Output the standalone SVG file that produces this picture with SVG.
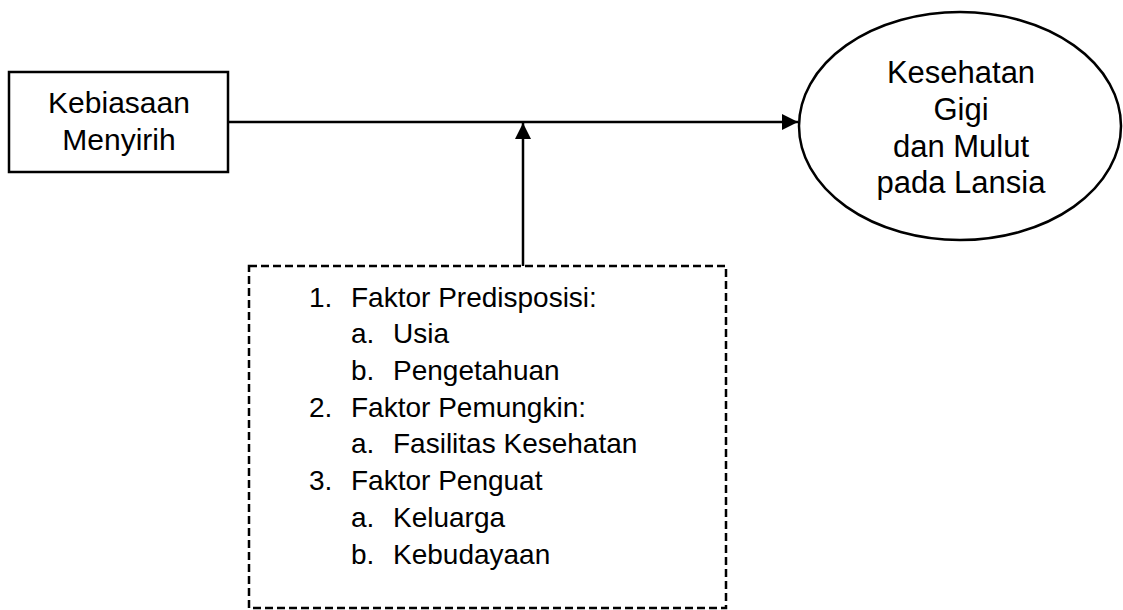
<svg xmlns="http://www.w3.org/2000/svg" width="1123" height="610" viewBox="0 0 1123 610">
<defs>
<style>
.t{font-family:"Liberation Sans",Arial,sans-serif;fill:#000}
.shape{fill:#fff;stroke:#000;stroke-width:2.5}
.conn{stroke:#000;stroke-width:2.5;fill:none}
</style>
<marker id="ah" markerWidth="16" markerHeight="16" viewBox="0 0 16 16" refX="16" refY="8" orient="auto" markerUnits="userSpaceOnUse">
<path d="M0,0 L16,8 L0,16 Z" fill="#000"/>
</marker>
</defs>
<rect width="1123" height="610" fill="#fff"/>
<g id="connectors">
<line class="conn" x1="229" y1="122" x2="798" y2="122" marker-end="url(#ah)"/>
<line class="conn" x1="523" y1="266" x2="523" y2="123" marker-end="url(#ah)"/>
</g>
<g id="kebiasaan">
<rect class="shape" x="9" y="72" width="219" height="100"/>
<text class="t" x="119" y="113" font-size="30" text-anchor="middle">Kebiasaan</text>
<text class="t" x="119" y="150" font-size="30" text-anchor="middle">Menyirih</text>
</g>
<g id="kesehatan">
<ellipse class="shape" cx="960" cy="126" rx="161" ry="114"/>
<text class="t" x="961" y="83" font-size="31" text-anchor="middle">Kesehatan</text>
<text class="t" x="961" y="120" font-size="31" text-anchor="middle">Gigi</text>
<text class="t" x="961" y="157" font-size="31" text-anchor="middle">dan Mulut</text>
<text class="t" x="961" y="193" font-size="31" text-anchor="middle">pada Lansia</text>
</g>
<g id="faktor">
<rect x="249" y="266" width="477" height="342" fill="none" stroke="#000" stroke-width="2.5" stroke-dasharray="8,4"/>
<g class="t" font-size="28">
<text x="309" y="307">1.</text><text x="351" y="307">Faktor Predisposisi:</text>
<text x="351" y="343">a.</text><text x="393" y="343">Usia</text>
<text x="351" y="380">b.</text><text x="393" y="380">Pengetahuan</text>
<text x="309" y="417">2.</text><text x="351" y="417">Faktor Pemungkin:</text>
<text x="351" y="453">a.</text><text x="393" y="453">Fasilitas Kesehatan</text>
<text x="309" y="490">3.</text><text x="351" y="490">Faktor Penguat</text>
<text x="351" y="527">a.</text><text x="393" y="527">Keluarga</text>
<text x="351" y="564">b.</text><text x="393" y="564">Kebudayaan</text>
</g>
</g>
</svg>
